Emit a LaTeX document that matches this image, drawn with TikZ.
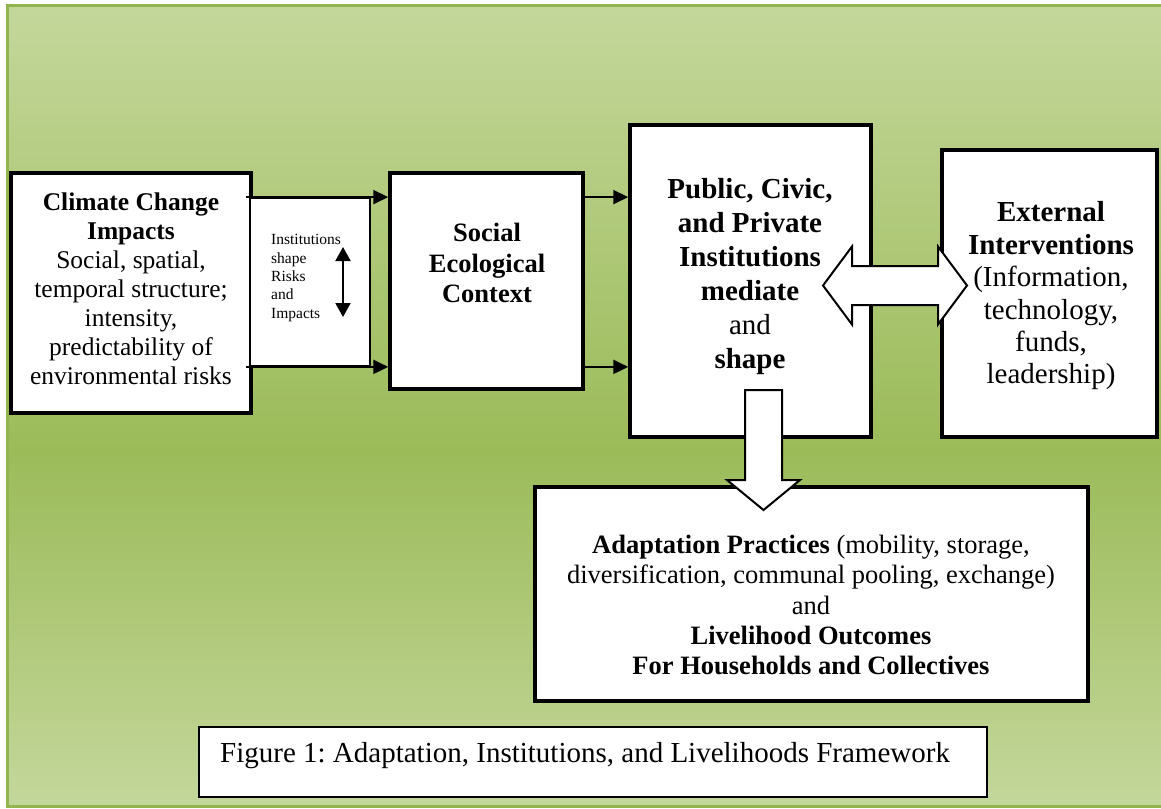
\documentclass[tikz,border=0pt]{standalone}
\usepackage{fontspec}
\setmainfont{Liberation Serif}
\usetikzlibrary{arrows.meta}
\definecolor{bgtop}{RGB}{196,215,155}
\definecolor{bgmid}{RGB}{155,187,89}
\definecolor{bgedge}{RGB}{146,180,78}
\frenchspacing

\begin{document}
\begin{tikzpicture}[x=1pt,y=-1pt]
\tikzset{Box/.style={draw, line width=3.5pt, fill=white, inner sep=0pt},
ThinBox/.style={draw, line width=1.8pt, fill=white, inner sep=0pt},
Txt/.style={inner sep=0pt, align=center},
Arr/.style={line width=2pt, -{Triangle[length=15pt,width=14pt]}},
BlockArr/.style={draw, line width=2pt, fill=white, line join=miter}}
\useasboundingbox (0,0) rectangle (1161,808);
\clip (0,0) rectangle (1161,808);
\shade[top color=bgtop, bottom color=bgmid] (7,6) rectangle (1180,450);
\shade[top color=bgmid, bottom color=bgtop] (7,450) rectangle (1180,806);
\draw[bgedge, line width=3pt] (7,6) rectangle (1180,806);

\node[Box, minimum width=240pt, minimum height=240pt] (climate) at (131,293) {};
\node[ThinBox, minimum width=120pt, minimum height=168pt] (shape) at (310,282) {};
\node[Box, minimum width=193pt, minimum height=216pt] (social) at (486.5,281) {};
\node[Box, minimum width=241pt, minimum height=312pt] (public) at (750.5,281) {};
\node[Box, minimum width=215pt, minimum height=287pt] (external) at (1049.5,293.5) {};
\node[Box, minimum width=553pt, minimum height=214pt] (adapt) at (811.5,594) {};
\node[ThinBox, minimum width=788pt, minimum height=70pt] (caption) at (593,762) {};

\draw[Arr] ([xshift=-3pt]shape.north west) -- (shape.north west -| social.west);
\draw[Arr] ([xshift=-3pt]shape.south west) -- (shape.south west -| social.west);
\draw[Arr] (social.east |- shape.north) -- (public.west |- shape.north);
\draw[Arr] (social.east |- shape.south) -- (public.west |- shape.south);

\coordinate (up) at (343,247);
\coordinate (dn) at (343,317);
\draw[line width=2pt, {Triangle[length=14pt,width=15pt]}-{Triangle[length=14pt,width=15pt]}] (up) -- (dn);

\coordinate (mid) at (895,285.5);
\draw[BlockArr] (mid) ++(-72,0) -- ++(29,-39) -- ++(0,19.5) -- ++(86,0) -- ++(0,-19.5)
  -- ++(29,39) -- ++(-29,39) -- ++(0,-19.5) -- ++(-86,0) -- ++(0,19.5) -- cycle;
\coordinate (downtop) at (763.5,390);
\draw[BlockArr] (downtop) ++(-18.5,0) -- ++(37,0) -- ++(0,90) -- ++(18,0) -- ++(-36.5,30)
  -- ++(-36.5,-30) -- ++(18,0) -- cycle;

\node[Txt, font=\fontsize{25.5}{29}\selectfont] (climtxt) at (131,289)
  {\textbf{Climate Change}\\\textbf{Impacts}\\Social, spatial,\\temporal structure;\\intensity,\\predictability of\\environmental risks};
\node[Txt, align=left, anchor=west, font=\fontsize{15.5}{18.3}\selectfont] (shapetxt) at (271,278)
  {Institutions\\shape\\Risks\\and\\Impacts};
\node[Txt, font=\fontsize{26.5}{30.5}\selectfont\bfseries] (socialtxt) at (487,263)
  {Social\\Ecological\\Context};
\node[Txt, font=\fontsize{29}{34}\selectfont] (publictxt) at (750,277)
  {\textbf{Public, Civic,}\\\textbf{and Private}\\\textbf{Institutions}\\\textbf{mediate}\\and\\\textbf{shape}};
\node[Txt, font=\fontsize{29}{32.4}\selectfont] (exttxt) at (1051,296)
  {\textbf{External}\\\textbf{Interventions}\\(Information,\\technology,\\funds,\\leadership)};
\node[Txt, font=\fontsize{26.5}{30.2}\selectfont] (adapttxt) at (811,605)
  {\textbf{Adaptation Practices} (mobility, storage,\\diversification, communal pooling, exchange)\\and\\\textbf{Livelihood Outcomes}\\\textbf{For Households and Collectives}};
\node[Txt, anchor=west, font=\fontsize{29}{34}\selectfont] (captxt) at (220,756)
  {Figure 1: Adaptation, Institutions, and Livelihoods Framework};
\end{tikzpicture}
\end{document}
